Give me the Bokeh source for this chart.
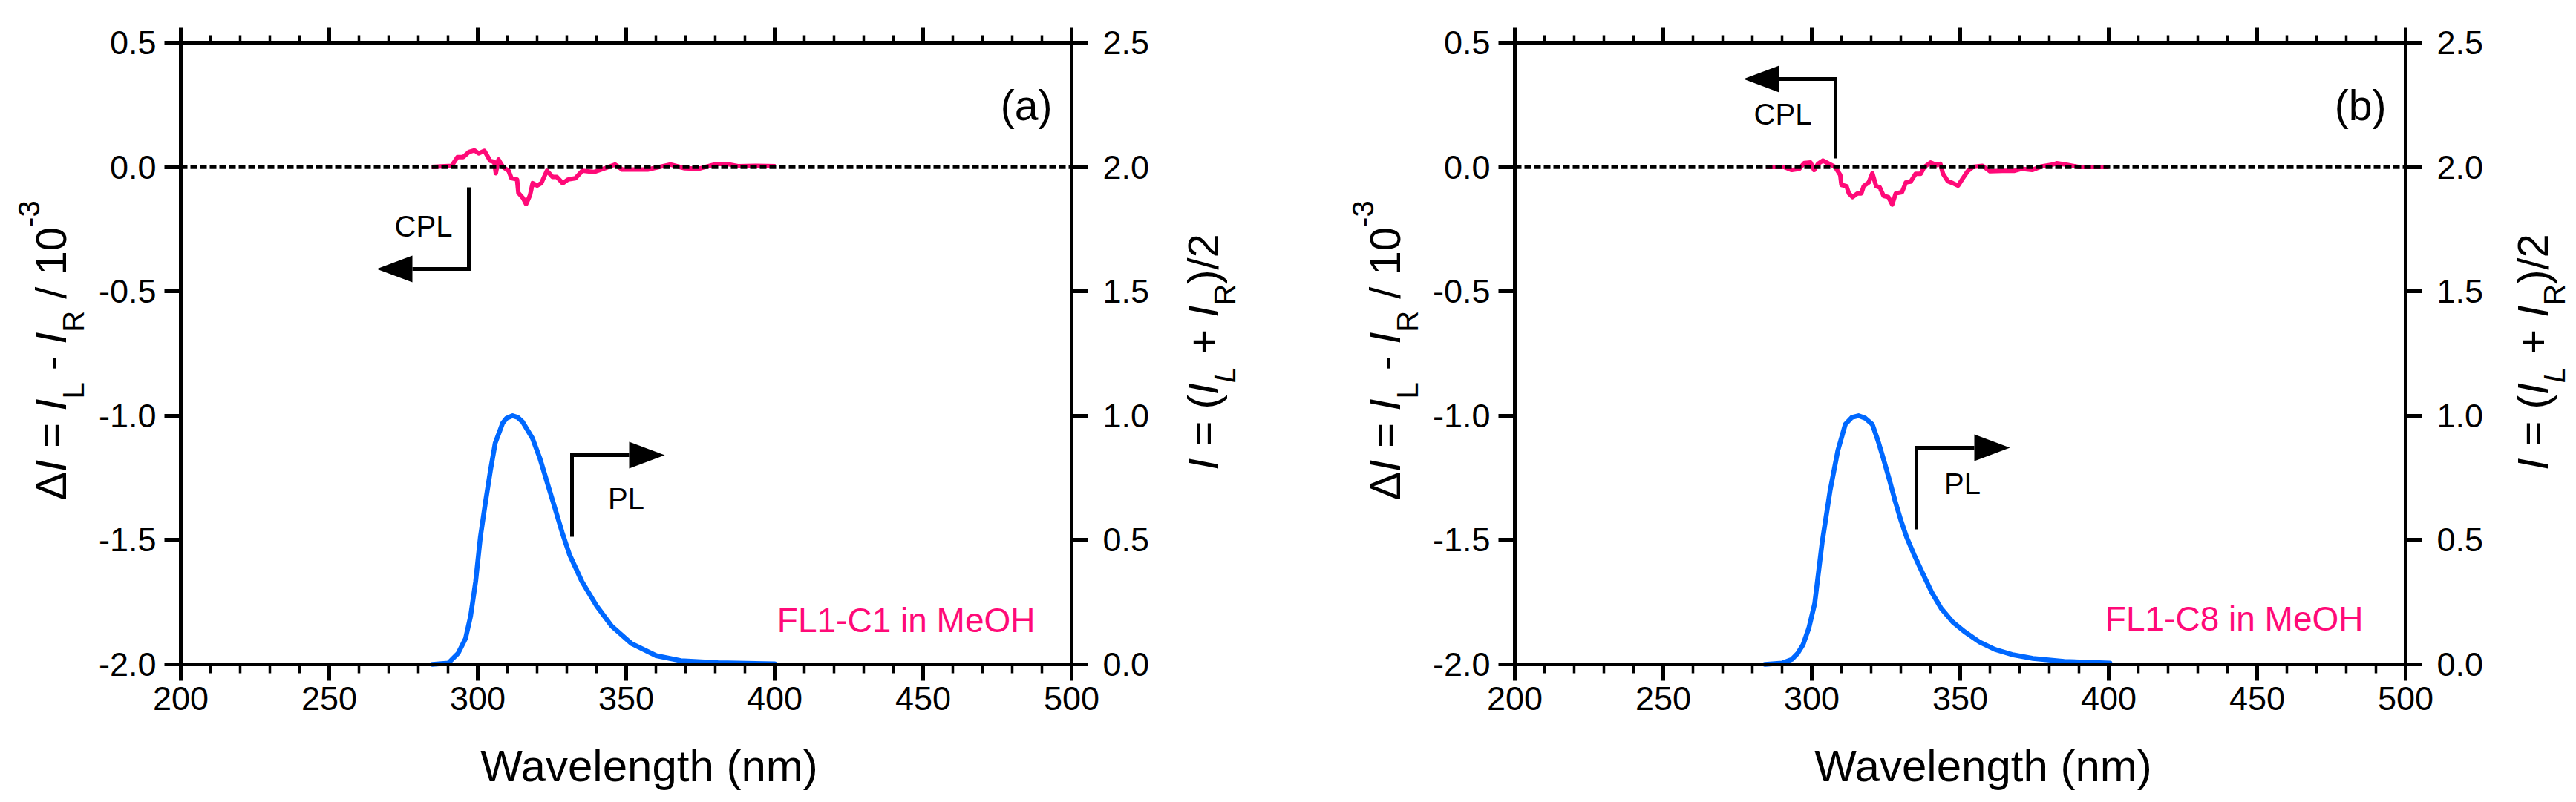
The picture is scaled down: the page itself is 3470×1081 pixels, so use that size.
import math
from bokeh.plotting import figure
from bokeh.models import (Range1d, LinearAxis, FixedTicker, Label,
                          PrintfTickFormatter, CustomJSTickFormatter)
from bokeh.layouts import row
from bokeh.embed import file_html
from bokeh.resources import INLINE

# ---------------- data ----------------
x_ticks = [200, 250, 300, 350, 400, 450, 500]
x_minor = list(range(200, 501, 10))
left_ticks = [-2.0, -1.5, -1.0, -0.5, 0.0, 0.5]
right_ticks = [0.0, 0.5, 1.0, 1.5, 2.0, 2.5]

wl_pl_a = [284.7, 290.1, 293.4, 295.9, 297.6, 299.3, 300.9, 302.6, 304.3, 305.9,
           308.4, 309.7, 311.75, 313.5, 315.1, 318.4, 320.9, 323.4, 325.9, 328.4,
           330.9, 335.1, 340.1, 345.1, 351.75, 360.1, 368.4, 380.9, 400.0]
pl_a = [0.0, 0.005, 0.045, 0.104, 0.194, 0.333, 0.512, 0.651, 0.781, 0.89,
        0.97, 0.99, 1.0, 0.993, 0.975, 0.91, 0.83, 0.731, 0.632, 0.532,
        0.442, 0.333, 0.234, 0.154, 0.084, 0.035, 0.015, 0.007, 0.002]

wl_pl_b = [284.25, 290.0, 293.3, 295.3, 297.1, 299.0, 301.0, 303.5, 306.2, 308.8,
           311.3, 313.5, 315.75, 318.0, 320.4, 322.3, 324.3, 326.2, 328.1, 330.0,
           332.0, 334.5, 337.2, 340.4, 343.6, 347.5, 351.4, 356.5, 361.7, 368.0,
           374.5, 385.0, 400.4]
pl_b = [0.0, 0.005, 0.02, 0.045, 0.08, 0.145, 0.245, 0.49, 0.70, 0.86,
        0.965, 0.993, 1.0, 0.99, 0.965, 0.9, 0.82, 0.74, 0.656, 0.58,
        0.51, 0.44, 0.37, 0.29, 0.225, 0.17, 0.132, 0.09, 0.06, 0.038,
        0.024, 0.012, 0.005]

wl_cpl_a = [284.5, 291.25, 293.2, 295.1, 297.0, 298.9, 300.3, 302.25, 304.2, 305.6,
            306.1, 307.0, 308.5, 310.4, 311.35, 313.25, 313.7, 315.2, 316.3, 317.6,
            318.5, 320.0, 321.4, 323.3, 325.2, 326.65, 328.6, 330.5, 332.9, 335.25,
            339.1, 342.9, 346.25, 348.65, 352.5, 357.25, 361.1, 364.9, 369.7, 374.5,
            380.25, 384.1, 387.9, 393.6, 400.3]
cpl_a = [0.0, 0.005, 0.04, 0.04, 0.06, 0.067, 0.055, 0.065, 0.025, 0.02,
         -0.025, 0.03, 0.0, -0.015, -0.045, -0.05, -0.104, -0.124, -0.149, -0.114,
         -0.065, -0.075, -0.065, -0.015, -0.04, -0.04, -0.065, -0.05, -0.045, -0.015,
         -0.02, -0.005, 0.01, -0.01, -0.01, -0.01, 0.0, 0.01, -0.005, -0.007,
         0.012, 0.012, 0.003, 0.005, 0.003]

wl_cpl_b = [284.6, 290.8, 293.3, 295.8, 297.5, 299.6, 300.8, 302.1, 303.75, 305.8,
            307.9, 309.6, 310.0, 311.7, 312.5, 313.75, 315.4, 316.7, 317.5, 319.2,
            320.4, 321.7, 322.9, 324.2, 325.8, 327.1, 328.3, 330.4, 331.7, 333.3,
            335.0, 336.7, 337.9, 340.0, 342.1, 343.3, 344.2, 345.8, 347.5, 349.3,
            350.8, 352.5, 354.2, 357.5, 360.0, 364.2, 368.3, 370.8, 374.2, 377.5,
            381.25, 382.5, 385.4, 390.0, 400.0]
cpl_b = [0.0, 0.0, -0.012, -0.007, 0.016, 0.018, -0.012, 0.013, 0.026, 0.013,
         0.0, -0.032, -0.072, -0.077, -0.106, -0.121, -0.106, -0.106, -0.077, -0.062,
         -0.025, -0.077, -0.082, -0.116, -0.121, -0.151, -0.106, -0.101, -0.062, -0.059,
         -0.027, -0.027, 0.0, 0.018, 0.008, 0.013, -0.027, -0.057, -0.065, -0.075,
         -0.047, -0.017, 0.0, 0.005, -0.017, -0.015, -0.015, -0.007, -0.012, 0.003,
         0.01, 0.015, 0.01, 0.0, 0.0]

panel_tags = ["(a)", "(b)"]
samples = ["FL1-C1 in MeOH", "FL1-C8 in MeOH"]

# ---------------- styling / geometry ----------------
FONT = "Liberation Sans"
PINK = "#FF0A78"
BLUE = "#0068FF"
PAGE = 0                  # bokeh's page template sets body margin to 0
FIG_H = 1066
PX_PER_NM = 4.0
PX_PER_UNIT = 335.2
AX_TOP_PAGE = 57          # page y of the 0.5 / 2.5 level

# Arial / Liberation Sans advance widths (1/1000 em)
W = {' ': 278, '(': 333, ')': 333, '+': 584, '-': 333, '/': 278, '0': 556, '1': 556,
     '2': 556, '3': 556, '=': 584, 'I': 278, 'L': 556, 'R': 722, 'Δ': 668}


def adv(s, size):
    return sum(W[c] for c in s) * size / 1000.0


def style_axis(ax):
    ax.axis_line_width = 5
    ax.axis_line_color = "black"
    ax.axis_line_cap = "square"
    ax.major_tick_line_width = 5
    ax.minor_tick_line_width = 3.5
    ax.major_tick_in = 0
    ax.minor_tick_in = 0
    ax.major_label_text_font = FONT
    ax.major_label_text_font_size = "45px"
    ax.major_label_text_color = "black"


def make_panel(wl_pl, pl, wl_cpl, cpl, tag, sample, fig_left_page, fig_w,
               frame_left_page, ann, right_title_dx):
    def nm(sx):
        return x_ticks[0] + (sx - frame_left_page) / PX_PER_NM

    def vv(sy):
        return left_ticks[-1] - (sy - AX_TOP_PAGE) / PX_PER_UNIT

    x0, x1 = nm(fig_left_page), nm(fig_left_page + fig_w)
    y0, y1 = vv(PAGE + FIG_H), vv(PAGE)
    p = figure(width=fig_w, height=FIG_H, min_border=0,
               min_border_left=0, min_border_right=0, min_border_top=0, min_border_bottom=0,
               x_range=Range1d(x0, x1), y_range=Range1d(y0, y1),
               x_axis_type=None, y_axis_type=None,
               output_backend="svg", toolbar_location=None)
    p.title.visible = False
    p.extra_y_ranges = {"pl": Range1d(y0 + 2.0, y1 + 2.0)}
    p.outline_line_color = None
    p.background_fill_color = "white"
    p.border_fill_color = "white"

    xmin, xmax = x_ticks[0], x_ticks[-1]
    ymin, ymax = left_ticks[0], left_ticks[-1]

    bottom = LinearAxis(fixed_location=ymin, bounds=(xmin, xmax))
    top = LinearAxis(fixed_location=ymax, bounds=(xmin, xmax))
    left = LinearAxis(fixed_location=xmin, bounds=(ymin, ymax))
    right = LinearAxis(y_range_name="pl", fixed_location=xmax,
                       bounds=(right_ticks[0], right_ticks[-1]))
    for ax in (bottom, top, left, right):
        style_axis(ax)

    bottom.ticker = FixedTicker(ticks=x_ticks, minor_ticks=x_minor)
    bottom.major_tick_out = 22
    bottom.minor_tick_out = 12
    bottom.major_label_standoff = 8

    top.ticker = FixedTicker(ticks=x_ticks, minor_ticks=x_minor)
    top.major_tick_out = 20
    top.minor_tick_out = 10
    top.formatter = CustomJSTickFormatter(code="return ''")
    top.major_label_text_font_size = "0px"
    top.major_label_standoff = 0

    left.ticker = FixedTicker(ticks=left_ticks, minor_ticks=[])
    left.formatter = PrintfTickFormatter(format="%.1f")
    left.major_tick_out = 22
    left.minor_tick_out = 0
    left.major_label_standoff = 11

    right.ticker = FixedTicker(ticks=right_ticks, minor_ticks=[])
    right.formatter = PrintfTickFormatter(format="%.1f")
    right.major_tick_out = 22
    right.minor_tick_out = 0
    right.major_label_standoff = 20

    p.add_layout(bottom, "below")
    p.add_layout(top, "above")
    p.add_layout(left, "left")
    p.add_layout(right, "right")

    # data
    p.line(wl_pl, pl, y_range_name="pl", line_color=BLUE, line_width=6.5,
           line_join="round", line_cap="round")
    p.line(wl_cpl, cpl, line_color=PINK, line_width=6, line_join="round")
    # zero reference (dotted)
    p.line([xmin, xmax], [0.0, 0.0], line_color="black", line_width=5.5,
           line_dash="9 4")

    # arrows (CPL and PL)
    for (vx, vy0, vy1, tipx, basex) in ann["arrows"]:
        p.line([nm(vx), nm(vx), nm(basex)], [vv(vy0), vv(vy1), vv(vy1)],
               line_color="black", line_width=5, line_join="miter")
        p.patch([nm(tipx), nm(basex), nm(basex)],
                [vv(vy1), vv(vy1 - 18), vv(vy1 + 18)], color="black", line_width=0)
    for (txt, cx, cy) in ann["texts"]:
        p.add_layout(Label(x=nm(cx), y=vv(cy), text=txt, text_font=FONT,
                           text_font_size="40px", text_align="center",
                           text_baseline="middle", text_color="black"))

    # panel tag
    p.add_layout(Label(x=nm(frame_left_page + 1174), y=vv(141), text=tag,
                       text_font=FONT, text_font_size="57px", text_align="right",
                       text_baseline="alphabetic", text_color="black"))
    # sample name
    p.add_layout(Label(x=nm(ann["sample_right"]), y=vv(ann["sample_base"]),
                       text=sample, text_font=FONT, text_font_size="46px",
                       text_align="right", text_baseline="alphabetic",
                       text_color=PINK))
    # x title
    p.add_layout(Label(x=nm(frame_left_page + 631), y=vv(1032),
                       text="Wavelength (nm)", text_font=FONT,
                       text_font_size="60px", text_align="center",
                       text_baseline="alphabetic", text_color="black"))

    # rotated y titles, composed piece by piece
    SP = ("SP", 0.278 * 58)

    def rotated(tokens, base_sx, center_sy):
        total = sum(t[1] if t[0] == "SP" else adv(t[0], t[1]) for t in tokens)
        y = center_sy + total / 2.0
        for t in tokens:
            if t[0] == "SP":
                y -= t[1]
                continue
            text, size, italic, shift = t
            p.add_layout(Label(x=nm(base_sx + shift), y=vv(y), text=text,
                               angle=math.pi / 2, text_font=FONT,
                               text_font_size=f"{size}px",
                               text_font_style="italic" if italic else "normal",
                               text_align="left", text_baseline="alphabetic",
                               text_color="black"))
            y -= adv(text, size)

    left_tokens = [("Δ", 58, False, 0), ("I", 58, True, 0), SP, ("=", 58, False, 0), SP,
                   ("I", 58, True, 0), ("L", 40, False, 30), SP, ("-", 58, False, 0), SP,
                   ("I", 58, True, 0), ("R", 40, False, 30), SP, ("/", 58, False, 0), SP,
                   ("10", 58, False, 0), ("-3", 40, False, -30)]
    right_tokens = [("I", 58, True, 0), SP, ("=", 58, False, 0), SP, ("(", 58, False, 0),
                    ("I", 58, True, 0), ("L", 40, True, 29), SP, ("+", 58, False, 0), SP,
                    ("I", 58, True, 0), ("R", 40, False, 29), (")/2", 58, False, 0)]
    rotated(left_tokens, frame_left_page - 175, 472)
    rotated(right_tokens, frame_left_page + 1377 + right_title_dx, 474)
    return p


ann_a = {
    "arrows": [(631, 252, 362, 507, 555), (770, 723, 613, 895, 847)],
    "texts": [("CPL", 570, 304), ("PL", 843, 671)],
    "sample_right": 1394, "sample_base": 835,
}
ann_b = {
    "arrows": [(2472, 213, 106, 2348, 2396), (2581, 713, 603, 2707, 2659)],
    "texts": [("CPL", 2401, 153), ("PL", 2643, 651)],
    "sample_right": 3183, "sample_base": 833,
}

FIG_A_W = 1805
FIG_B_W = 1660
pa = make_panel(wl_pl_a, pl_a, wl_cpl_a, cpl_a, panel_tags[0], samples[0],
                PAGE, FIG_A_W, 243, ann_a, 0)
pb = make_panel(wl_pl_b, pl_b, wl_cpl_b, cpl_b, panel_tags[1], samples[1],
                PAGE + FIG_A_W, FIG_B_W, 2040, ann_b, -6)

layout = row(pa, pb)
open("out.html", "w").write(file_html(layout, INLINE))
